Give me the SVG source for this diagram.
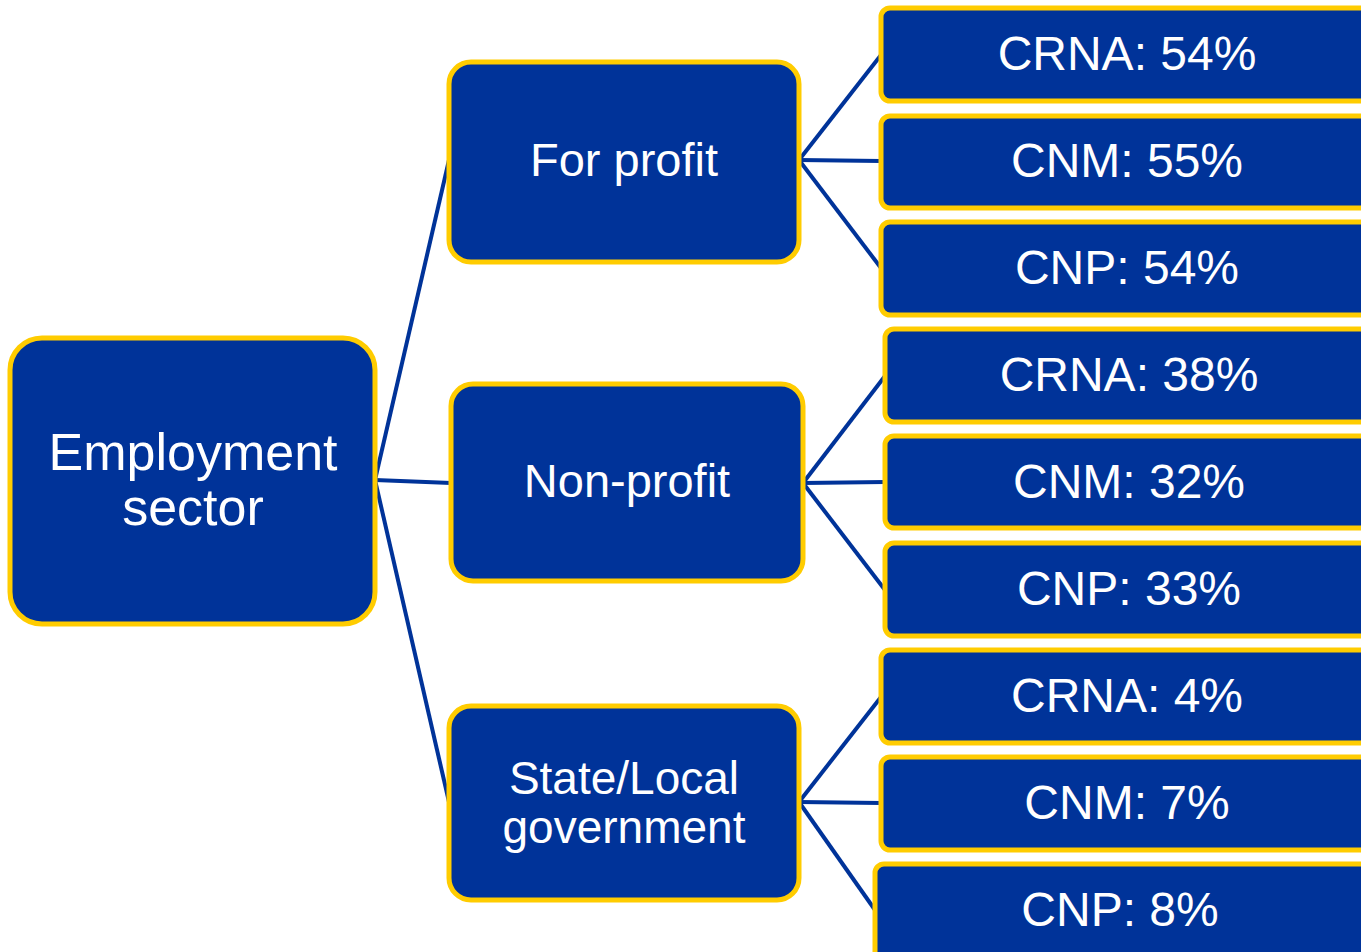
<svg xmlns="http://www.w3.org/2000/svg" width="1361" height="952" viewBox="0 0 1361 952">
<style>
.box{fill:#003399;stroke:#FFCC00;stroke-width:5}
.t{fill:#ffffff;font-family:"Liberation Sans",Arial,sans-serif;text-anchor:middle}
.conn line{stroke:#003399;stroke-width:4}
</style>
<rect width="1361" height="952" fill="#ffffff"/>
<g class="conn">
<line x1="375" y1="480" x2="449" y2="160"/>
<line x1="375" y1="480" x2="451" y2="483"/>
<line x1="375" y1="480" x2="449" y2="802"/>
<line x1="799" y1="160" x2="881" y2="55"/>
<line x1="799" y1="160" x2="881" y2="161"/>
<line x1="799" y1="160" x2="881" y2="268"/>
<line x1="803" y1="483" x2="885" y2="376"/>
<line x1="803" y1="483" x2="885" y2="482"/>
<line x1="803" y1="483" x2="885" y2="590"/>
<line x1="799" y1="802" x2="881" y2="697"/>
<line x1="799" y1="802" x2="881" y2="803"/>
<line x1="799" y1="802" x2="875" y2="910"/>
</g>
<g id="root">
<rect class="box" x="10" y="338" width="365" height="286" rx="32"/>
<text class="t" x="193" y="470" font-size="52">Employment</text>
<text class="t" x="193" y="525" font-size="52">sector</text>
</g>
<g id="forprofit">
<rect class="box" x="449" y="62" width="350" height="200" rx="22"/>
<text class="t" x="624" y="176" font-size="47">For profit</text>
</g>
<g id="nonprofit">
<rect class="box" x="451" y="384" width="352" height="197" rx="22"/>
<text class="t" x="627" y="497" font-size="47">Non-profit</text>
</g>
<g id="state">
<rect class="box" x="449" y="706" width="350" height="194" rx="22"/>
<text class="t" x="624" y="794" font-size="46">State/Local</text>
<text class="t" x="624" y="843" font-size="46">government</text>
</g>
<g id="fp-crna">
<rect class="box" x="881" y="8" width="500" height="93" rx="9"/>
<text class="t" x="1127" y="70" font-size="48">CRNA: 54%</text>
</g>
<g id="fp-cnm">
<rect class="box" x="881" y="116" width="500" height="92" rx="9"/>
<text class="t" x="1127" y="177" font-size="48">CNM: 55%</text>
</g>
<g id="fp-cnp">
<rect class="box" x="881" y="222" width="500" height="93" rx="9"/>
<text class="t" x="1127" y="284" font-size="48">CNP: 54%</text>
</g>
<g id="np-crna">
<rect class="box" x="885" y="329" width="500" height="93" rx="9"/>
<text class="t" x="1129" y="391" font-size="48">CRNA: 38%</text>
</g>
<g id="np-cnm">
<rect class="box" x="885" y="436" width="500" height="92" rx="9"/>
<text class="t" x="1129" y="498" font-size="48">CNM: 32%</text>
</g>
<g id="np-cnp">
<rect class="box" x="885" y="543" width="500" height="93" rx="9"/>
<text class="t" x="1129" y="605" font-size="48">CNP: 33%</text>
</g>
<g id="sl-crna">
<rect class="box" x="881" y="650" width="500" height="93" rx="9"/>
<text class="t" x="1127" y="712" font-size="48">CRNA: 4%</text>
</g>
<g id="sl-cnm">
<rect class="box" x="881" y="757" width="500" height="93" rx="9"/>
<text class="t" x="1127" y="819" font-size="48">CNM: 7%</text>
</g>
<g id="sl-cnp">
<rect class="box" x="875" y="864" width="500" height="100" rx="9"/>
<text class="t" x="1120" y="926" font-size="48">CNP: 8%</text>
</g>
</svg>
